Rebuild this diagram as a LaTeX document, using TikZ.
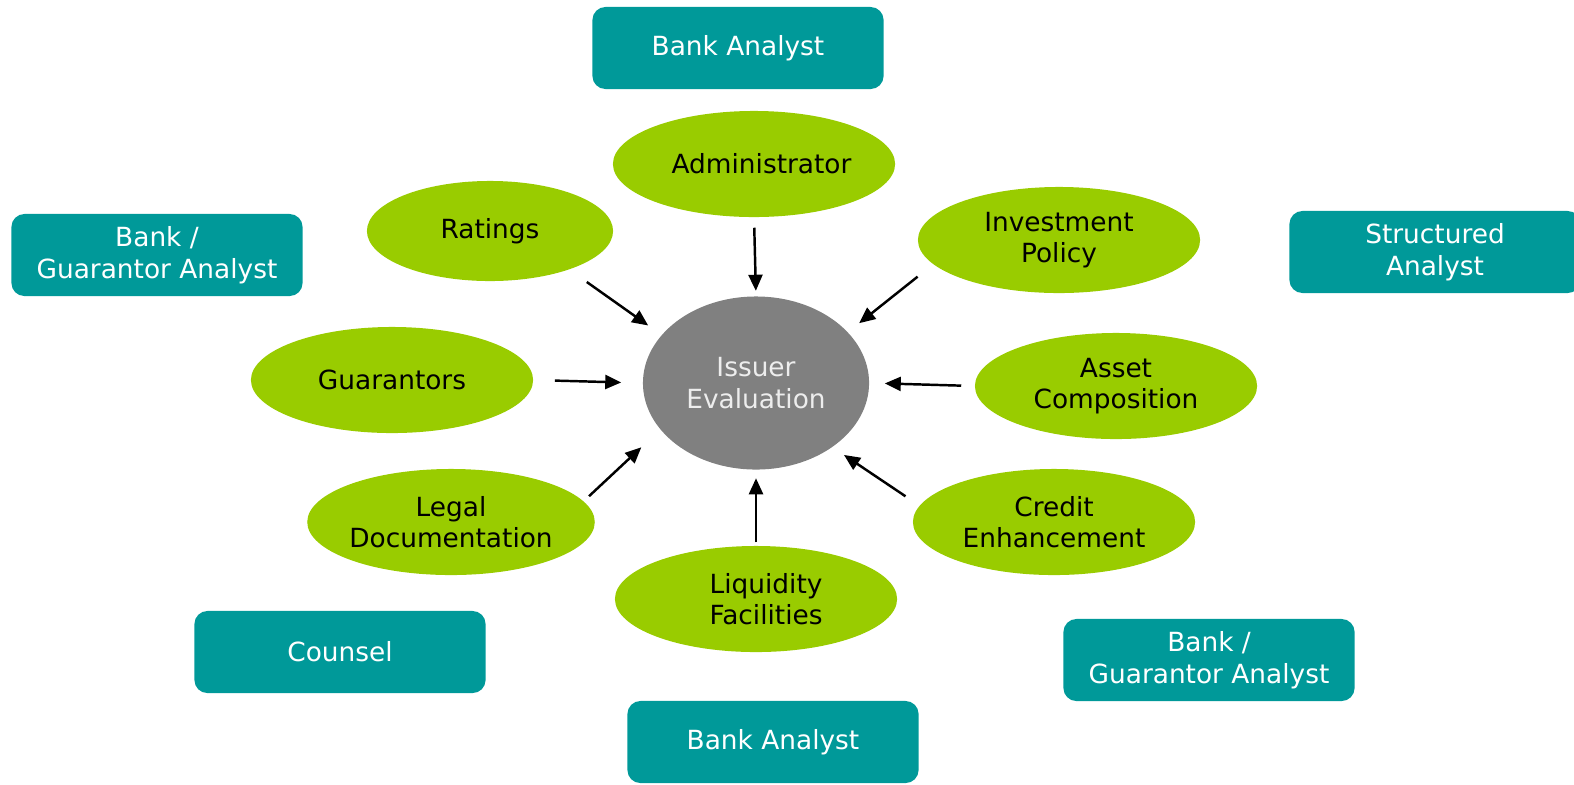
\documentclass[tikz,border=0pt]{standalone}
\usepackage{fontspec}
\setmainfont{DejaVu Sans}
\usepackage{tikz}
\usetikzlibrary{calc,shapes.geometric,arrows.meta}
\definecolor{leafgreen}{RGB}{ 153, 204, 0 }
\definecolor{tealbox}{RGB}{ 0, 153, 153 }
\definecolor{midgray}{RGB}{ 128, 128, 128 }

\begin{document}
\begin{tikzpicture}[x=0.01cm,y=-0.01cm,font=\fontsize{7.5}{9}\selectfont]
\tikzstyle{green node}=[ellipse,fill=leafgreen,inner sep=0,minimum width=2.82cm,minimum height=1.06cm,align=center,text=black]
\tikzstyle{teal box}=[rectangle,rounded corners=0.13cm,fill=tealbox,inner sep=0,minimum width=2.91cm,minimum height=0.82cm,align=center,text=white]
\tikzstyle{centre node}=[ellipse,fill=midgray,inner sep=0,minimum width=2.26cm,minimum height=1.73cm,align=center,text=white!93!black]
\tikzstyle{feed}=[-{Triangle[length=0.16cm,width=0.14cm]},line width=0.7pt,black]

\useasboundingbox (0,0) rectangle (1574,784);
\clip (0,0) rectangle (1574,784);

% analysts
\node(topbank)[teal box] at (738,48) {Bank Analyst};
\node(leftbank)[teal box] at (157,255) {Bank /\\Guarantor Analyst};
\node(struct)[teal box] at (1435,252) {Structured\\Analyst};
\node(counsel)[teal box] at (340,652) {Counsel};
\node(rightbank)[teal box] at (1209,660) {Bank /\\Guarantor Analyst};
\node(botbank)[teal box] at (773,742) {Bank Analyst};

% inputs
\node(iss)[centre node] at (756,383) {Issuer\\Evaluation};
\node(admin)[green node] at (754,164) {\hspace{0.15cm}Administrator};
\node(rat)[green node,minimum width=2.46cm,minimum height=1.0cm] at (490,231) {Ratings};
\node(inv)[green node] at (1059,240) {Investment\\Policy};
\node(guar)[green node] at (392,380) {Guarantors};
\node(asset)[green node] at (1116,386) {Asset\\Composition};
\node(legal)[green node] at (451,522) {Legal\\Documentation};
\node(credit)[green node] at (1054,522) {Credit\\Enhancement};
\node(liq)[green node] at (756,599) {\hspace{0.2cm}Liquidity\\\hspace{0.2cm}Facilities};

% arrows into the evaluation
\draw[feed,shorten <=0.10cm,shorten >=0.05cm](admin.south)--(iss.north);
\draw[feed,shorten <=0.21cm,shorten >=0.16cm](rat.-26.5)--(iss.153.8);
\draw[feed,shorten <=0.195cm,shorten >=0.14cm](inv.-169.2)--(iss.29.4);
\draw[feed,shorten <=0.21cm,shorten >=0.21cm](guar.east)--(iss.west);
\draw[feed,shorten <=0.13cm,shorten >=0.15cm](asset.west)--(iss.east);
\draw[feed,shorten <=0.07cm,shorten >=0.256cm](legal.9.5)--(iss.-154.4);
\draw[feed,shorten <=0.164cm,shorten >=0.135cm](credit.173.3)--(iss.-40.4);
\draw[feed,shorten <=0.03cm,shorten >=0.08cm](liq.north)--(iss.south);

\end{tikzpicture}
\end{document}
